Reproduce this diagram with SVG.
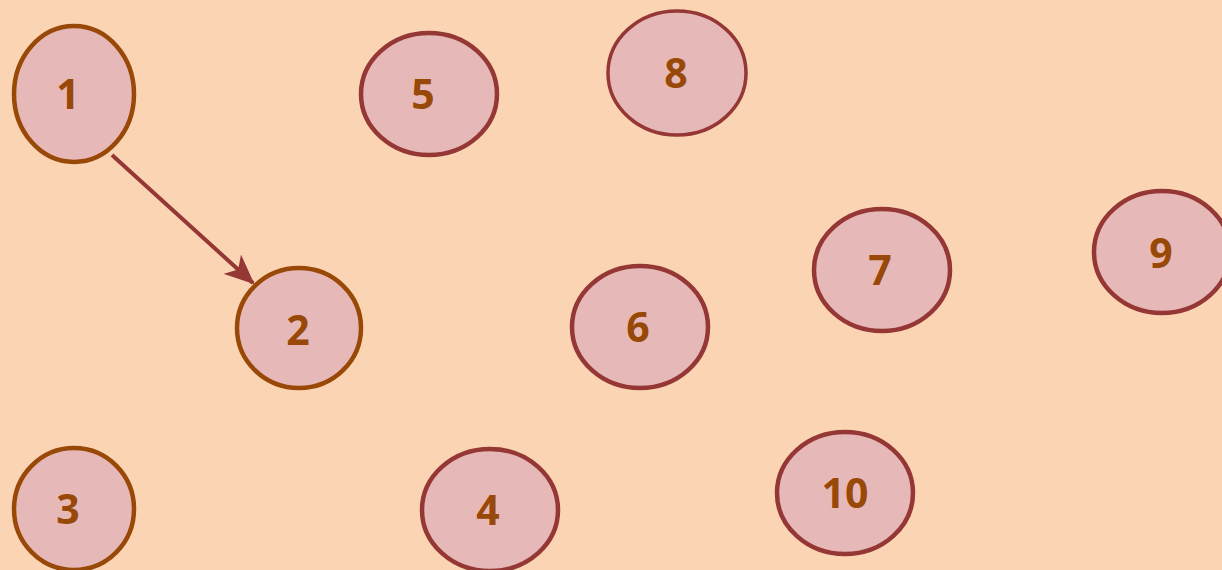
<svg xmlns="http://www.w3.org/2000/svg" width="1222" height="570" viewBox="0 0 1222 570">
<style>
.n ellipse{fill:#E6B9B8;stroke-width:4.5}
.o ellipse{stroke:#984807}
.r ellipse{stroke:#953735}
.n text{font-family:"Open Sans","Liberation Sans",sans-serif;font-weight:bold;font-size:41px;fill:#984807;text-anchor:middle;dominant-baseline:central}
.c{stroke:#953735;stroke-width:4;fill:none}
</style>
<defs>
<marker id="ah" markerUnits="userSpaceOnUse" markerWidth="30" markerHeight="26" viewBox="0 0 30 26" refX="28" refY="13" orient="auto">
<path d="M0,0 L30,13 L0,26 L8,13 z" fill="#953735"/>
</marker>
</defs>
<rect width="1222" height="570" fill="#FBD4B4"/>
<g id="connectors">
<line class="c" x1="112" y1="155" x2="253" y2="283" marker-end="url(#ah)"/>
</g>
<g id="node1" class="n o"><ellipse cx="74" cy="94" rx="60" ry="68"/><text x="68" y="93">1</text></g>
<g id="node2" class="n o"><ellipse cx="299" cy="328" rx="62" ry="60"/><text x="298" y="329">2</text></g>
<g id="node3" class="n o"><ellipse cx="74" cy="509" rx="60" ry="61"/><text x="68" y="508">3</text></g>
<g id="node4" class="n r"><ellipse cx="490" cy="510" rx="68" ry="61"/><text x="488" y="509">4</text></g>
<g id="node5" class="n r"><ellipse cx="429" cy="94" rx="68" ry="61"/><text x="423" y="93">5</text></g>
<g id="node6" class="n r"><ellipse cx="640" cy="327" rx="68" ry="61"/><text x="638" y="326">6</text></g>
<g id="node7" class="n r"><ellipse cx="882" cy="270" rx="68" ry="61"/><text x="880" y="269">7</text></g>
<g id="node8" class="n r"><ellipse cx="677" cy="73" rx="69" ry="62" style="stroke-width:3.5"/><text x="676" y="72">8</text></g>
<g id="node9" class="n r"><ellipse cx="1162" cy="252" rx="68" ry="61"/><text x="1161" y="252">9</text></g>
<g id="node10" class="n r"><ellipse cx="845" cy="493" rx="68" ry="61"/><text x="845" y="492">10</text></g>
</svg>
